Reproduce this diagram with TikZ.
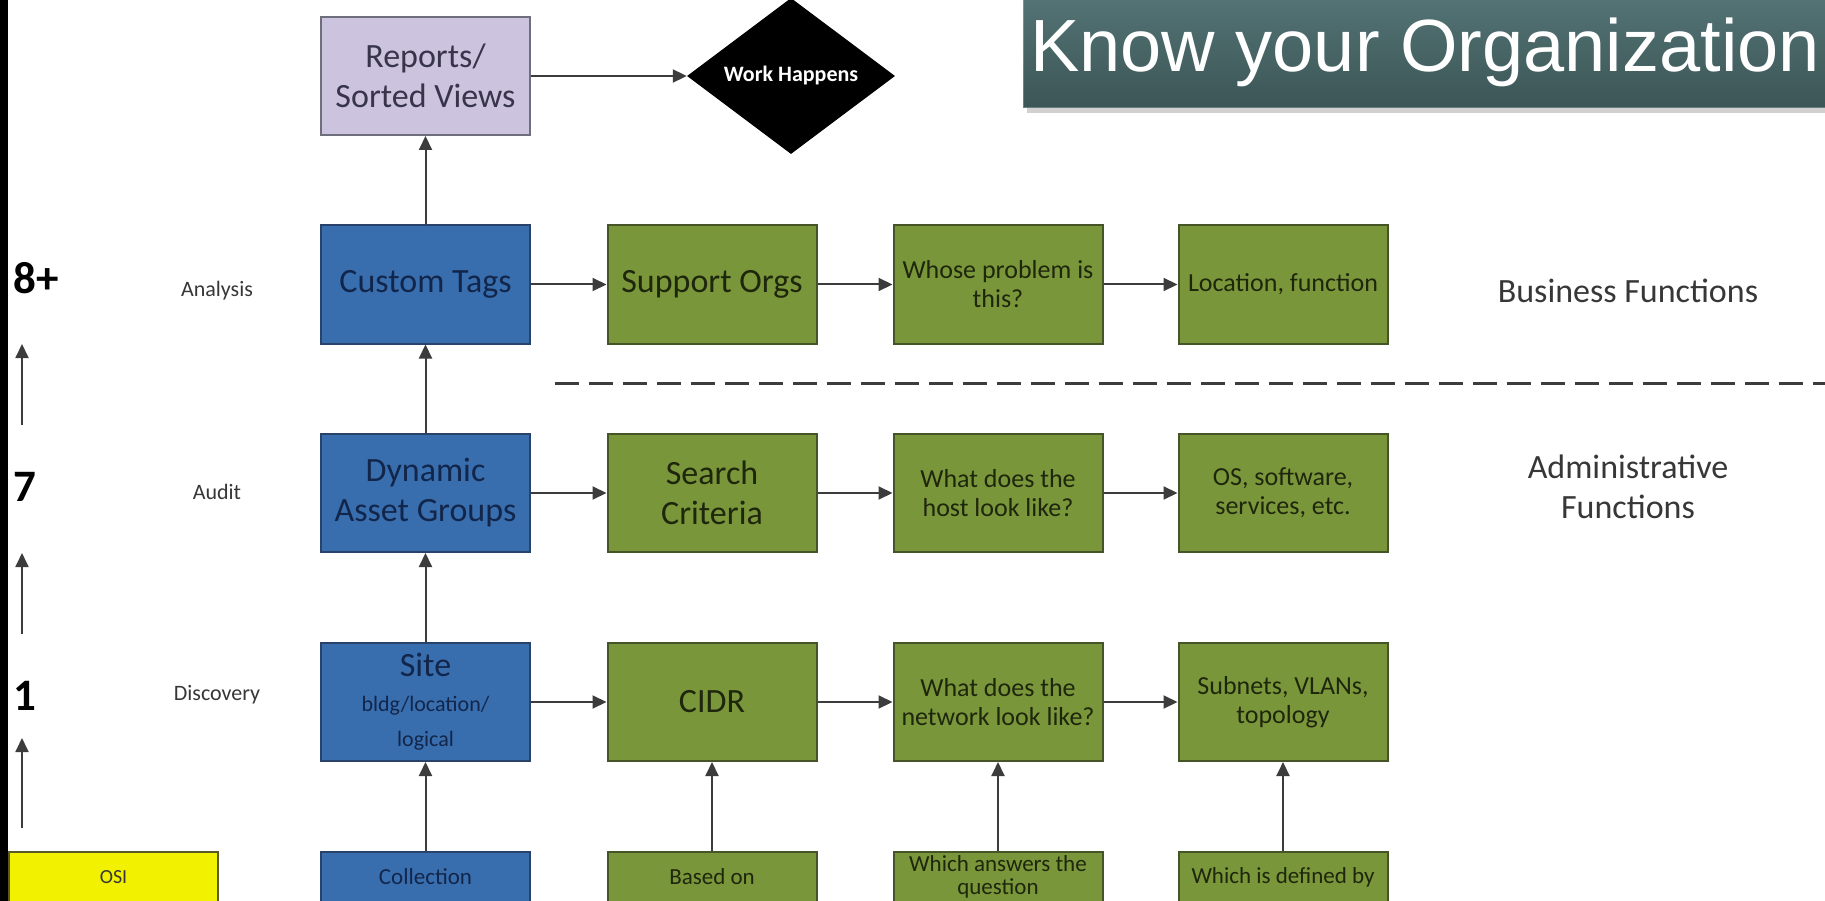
\documentclass[tikz,border=0pt]{standalone}
\usepackage{fontspec}
\setmainfont{Carlito}
\newfontfamily\arialf{Liberation Sans}
\usetikzlibrary{arrows.meta,shapes.geometric}

\definecolor{bluefill}{RGB}{57,110,174}
\definecolor{blueborder}{RGB}{40,66,105}
\definecolor{bluetext}{RGB}{18,38,75}
\definecolor{greenfill}{RGB}{122,150,58}
\definecolor{greenborder}{RGB}{70,85,40}
\definecolor{greentext}{RGB}{30,38,12}
\definecolor{lavfill}{RGB}{204,196,222}
\definecolor{lavborder}{RGB}{110,110,125}
\definecolor{lavtext}{RGB}{55,52,75}
\definecolor{osifill}{RGB}{242,242,0}
\definecolor{osiborder}{RGB}{90,90,40}
\definecolor{conncol}{RGB}{60,60,60}
\definecolor{labelcol}{RGB}{55,55,55}
\definecolor{bantop}{RGB}{83,115,116}
\definecolor{banbot}{RGB}{60,85,86}

\tikzset{
  box/.style={draw, line width=2pt, minimum width=209pt, minimum height=118pt, inner sep=2pt, align=center},
  bluebox/.style={box, fill=bluefill, draw=blueborder, text=bluetext},
  greenbox/.style={box, fill=greenfill, draw=greenborder, text=greentext},
  lavbox/.style={box, fill=lavfill, draw=lavborder, text=lavtext},
  osibox/.style={box, fill=osifill, draw=osiborder, text=labelcol},
  cutrow/.style={minimum height=50pt},
  big/.style={font=\fontsize{34}{40}\selectfont},
  small/.style={font=\fontsize{26}{29}\selectfont},
  tiny/.style={font=\fontsize{23}{23}\selectfont},
  conn/.style={draw=conncol, line width=2pt, -{Triangle[length=14pt,width=13pt]}},
  lvlarrow/.style={draw=conncol, line width=1.8pt, -{Triangle[length=14pt,width=13pt]}},
  rowlbl/.style={text=labelcol, inner sep=0pt, font=\fontsize{22}{22}\selectfont},
  lvl/.style={text=black, inner sep=0pt, anchor=west, font=\bfseries\fontsize{45}{45}\selectfont},
  side/.style={text=labelcol, inner sep=0pt, align=center, font=\fontsize{34}{40}\selectfont},
  dashline/.style={draw=conncol, line width=3pt, dash pattern=on 24pt off 10pt}
}

\begin{document}
\begin{tikzpicture}[x=1pt,y=-1pt]
\useasboundingbox (0,0) rectangle (1825,901);
\clip (0,0) rectangle (1825,901);
\fill[white] (0,0) rectangle (1825,901);
\fill[black] (0,0) rectangle (8,901);

% title banner
\fill[black, opacity=0.18] (1027,4) rectangle (1845,113);
\shade[top color=bantop, bottom color=banbot] (1023,-2) rectangle (1845,108);
\draw[white, opacity=0.25, line width=1pt] (1023.5,-2) -- (1023.5,107.5) -- (1845,107.5);
\node[anchor=base west, inner sep=0pt, text=white, font=\arialf\fontsize{74}{74}\selectfont] (title) at (1030,72) {Know your Organization};

% top
\node[lavbox, big] (reports) at (425.5,76) {Reports/\\Sorted Views};
\node[diamond, aspect=1.33, fill=black, minimum width=208pt, minimum height=156pt, inner sep=0pt, text=white, font=\bfseries\fontsize{22}{22}\selectfont] (work) at (791,76) {Work Happens};

% row 1
\node[bluebox, big] (tags) at (425.5,284.5) {Custom Tags};
\node[greenbox, big] (orgs) at (712,284.5) {Support Orgs};
\node[greenbox, small] (whose) at (998,284.5) {Whose problem is\\this?};
\node[greenbox, small] (loc) at (1283,284.5) {Location, function};

% row 2
\node[bluebox, big] (dag) at (425.5,493) {Dynamic\\Asset Groups};
\node[greenbox, big] (search) at (712,493) {Search\\Criteria};
\node[greenbox, small] (host) at (998,493) {What does the\\host look like?};
\node[greenbox, small] (os) at (1283,493) {OS, software,\\services, etc.};

% row 3
\node[bluebox, font=\fontsize{22}{35}\selectfont] (site) at (425.5,702) {{\fontsize{34}{34}\selectfont Site}\\bldg/location/\\logical};
\node[greenbox, big] (cidr) at (712,702) {CIDR};
\node[greenbox, small] (network) at (998,702) {What does the\\network look like?};
\node[greenbox, small] (subnets) at (1283,702) {Subnets, VLANs,\\topology};

% row 4 (cut by the bottom edge)
\node[osibox, cutrow, font=\fontsize{20}{20}\selectfont] (osi) at (113.5,877) {OSI};
\node[bluebox, cutrow, tiny] (collection) at (425.5,877) {Collection};
\node[greenbox, cutrow, tiny] (based) at (712,877) {Based on};
\node[greenbox, cutrow, tiny] (answers) at (998,877) {Which answers the\\question};
\node[greenbox, cutrow, tiny] (defined) at (1283,877) {Which is defined by};

% row labels
\node[rowlbl] (analysis) at (217,291) {Analysis};
\node[rowlbl] (audit) at (217,492) {Audit};
\node[rowlbl] (discovery) at (217,695) {Discovery};

% level numbers
\node[lvl] (l8) at (13,278) {8+};
\node[lvl] (l7) at (13,487) {7};
\node[lvl] (l1) at (13,696) {1};
\coordinate (a1s) at (22,425); \coordinate (a1e) at (22,344);
\coordinate (a2s) at (22,634); \coordinate (a2e) at (22,553);
\coordinate (a3s) at (22,828); \coordinate (a3e) at (22,738);
\draw[lvlarrow] (a1s) -- (a1e);
\draw[lvlarrow] (a2s) -- (a2e);
\draw[lvlarrow] (a3s) -- (a3e);

% side texts and divider
\node[side] (bf) at (1628,291) {Business Functions};
\node[side] (af) at (1628,487) {Administrative\\Functions};
\coordinate (d0) at (555,383); \coordinate (d1) at (1840,383);
\draw[dashline] (d0) -- (d1);

% connectors
\draw[conn] (reports) -- (work);
\draw[conn] (tags) -- (reports);
\draw[conn] (dag) -- (tags);
\draw[conn] (site) -- (dag);
\draw[conn] (collection) -- (site);
\draw[conn] (tags) -- (orgs);
\draw[conn] (orgs) -- (whose);
\draw[conn] (whose) -- (loc);
\draw[conn] (dag) -- (search);
\draw[conn] (search) -- (host);
\draw[conn] (host) -- (os);
\draw[conn] (site) -- (cidr);
\draw[conn] (cidr) -- (network);
\draw[conn] (network) -- (subnets);
\draw[conn] (based) -- (cidr);
\draw[conn] (answers) -- (network);
\draw[conn] (defined) -- (subnets);
\end{tikzpicture}
\end{document}
